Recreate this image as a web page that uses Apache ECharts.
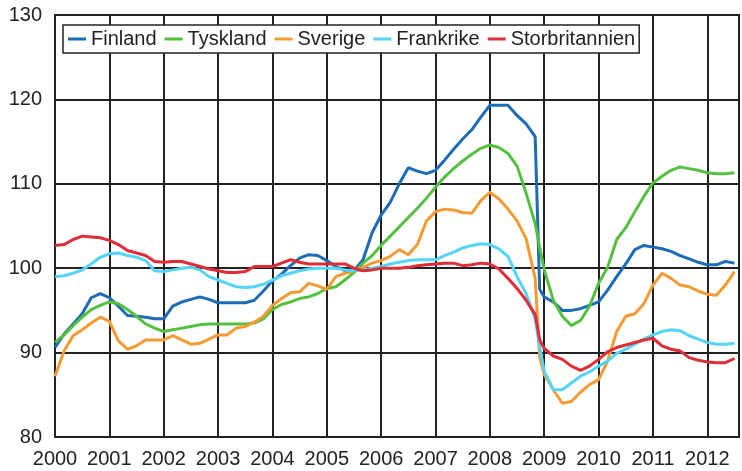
<!DOCTYPE html>
<html>
<head>
<meta charset="utf-8">
<script src="https://cdn.jsdelivr.net/npm/echarts@6/dist/echarts.min.js"></script>
<style>
  html, body { margin: 0; padding: 0; background: #fff; }
  #chart { width: 742px; height: 471px; }
</style>
</head>
<body>
<div id="chart"></div>
<script>
// month index from 2000-01 (0 = Jan 2000)
const months = [0,2,4,6,8,10,12,14,16,18,20,22,24,26,28,30,32,34,36,38,40,42,44,46,48,50,
  52,54,56,58,60,62,64,66,68,70,72,74,76,78,80,82,84,86,88,90,92,94,96,98,100,102,104,106,107,
  108,110,112,114,116,118,120,122,124,126,128,130,132,134,136,138,140,142,144,146,148,150];

const years = ['2000','2001','2002','2003','2004','2005','2006','2007','2008','2009','2010','2011','2012'];

const finland = [90.6,92.2,93.4,94.6,96.5,97.0,96.5,95.5,94.4,94.3,94.2,94.0,94.0,95.5,96.0,96.3,96.6,96.3,
  95.9,95.9,95.9,95.9,96.2,97.3,98.5,99.3,100.3,101.2,101.6,101.5,100.9,100.2,99.7,99.7,101.0,104.2,
  106.3,107.8,110.0,111.9,111.5,111.2,111.6,112.8,114.1,115.3,116.4,117.9,119.3,119.3,119.3,118.1,117.1,115.6,97.5,
  96.6,96.0,95.0,95.0,95.2,95.6,96.0,97.4,99.0,100.5,102.2,102.7,102.5,102.3,102.0,101.5,101.1,100.7,100.4,100.4,100.8,100.6];

const tyskland = [91.2,92.1,93.2,94.2,95.1,95.6,96.0,95.8,95.1,94.3,93.4,92.9,92.5,92.7,92.9,93.1,93.3,93.4,
  93.4,93.4,93.4,93.4,93.5,94.0,95.1,95.7,96.0,96.4,96.6,97.0,97.6,97.8,98.6,99.5,100.6,101.5,
  102.7,103.8,104.9,106.0,107.1,108.3,109.6,110.8,111.8,112.7,113.5,114.2,114.6,114.3,113.6,112.1,108.9,105.3,102.5,
  99.8,96.2,94.3,93.2,93.8,95.5,98.2,100.1,103.4,104.8,106.7,108.5,110.1,110.9,111.6,112.0,111.8,111.6,111.3,111.2,111.2,111.3];

const sverige = [87.2,90.2,92.0,92.7,93.5,94.2,93.7,91.4,90.4,90.8,91.5,91.5,91.5,92.0,91.5,91.0,91.1,91.6,
  92.1,92.1,92.9,93.1,93.6,94.3,95.6,96.4,97.1,97.2,98.2,97.9,97.5,99.0,99.4,99.7,100.1,100.6,
  100.9,101.4,102.2,101.6,102.8,105.6,106.7,107.0,106.9,106.6,106.5,108.0,109.0,108.2,107.0,105.6,103.5,98.8,89.5,
  87.4,85.6,84.0,84.2,85.3,86.2,86.8,89.0,92.5,94.3,94.6,95.8,98.0,99.4,98.8,98.0,97.8,97.3,96.9,96.8,98.0,99.6];

const frankrike = [99.0,99.1,99.4,99.8,100.5,101.3,101.7,101.8,101.5,101.3,100.9,99.7,99.6,99.8,100.0,100.1,99.8,99.0,
  98.6,98.2,97.8,97.7,97.8,98.1,98.6,99.1,99.4,99.7,99.9,100.0,100.0,100.0,99.8,99.7,99.8,100.0,
  100.2,100.5,100.7,100.9,101.0,101.0,101.0,101.5,101.9,102.4,102.7,102.9,102.8,102.3,101.4,99.0,97.0,94.0,90.7,
  87.8,85.6,85.6,86.4,87.2,87.7,88.4,89.0,89.9,90.4,91.0,91.6,92.1,92.5,92.7,92.6,92.0,91.6,91.2,91.0,91.0,91.1];

const storbritannien = [102.7,102.8,103.4,103.8,103.7,103.6,103.3,102.8,102.1,101.8,101.5,100.8,100.7,100.8,100.8,100.5,100.2,99.9,
  99.7,99.5,99.5,99.6,100.2,100.2,100.2,100.6,101.0,100.7,100.5,100.5,100.5,100.5,100.5,100.0,99.7,99.8,
  100.0,100.0,100.0,100.1,100.3,100.4,100.5,100.6,100.6,100.3,100.4,100.6,100.5,99.9,98.8,97.6,96.2,94.5,91.5,
  90.5,89.6,89.2,88.4,87.9,88.4,89.2,90.1,90.6,90.9,91.2,91.5,91.7,90.8,90.4,90.2,89.4,89.1,88.9,88.8,88.8,89.3];

const names = ['Finland', 'Tyskland', 'Sverige', 'Frankrike', 'Storbritannien'];
const colors = ['#1c6bb8', '#55c040', '#f59a32', '#55d4fa', '#e02c36'];
const values = [finland, tyskland, sverige, frankrike, storbritannien];

const chart = echarts.init(document.getElementById('chart'));

chart.setOption({
  animation: false,
  backgroundColor: '#fff',
  textStyle: { fontFamily: 'Liberation Sans' },
  grid: {
    left: 55,
    right: 1,
    top: 15,
    bottom: 34,
    show: true,
    borderColor: '#222',
    borderWidth: 2
  },
  legend: {
    left: 63,
    top: 25,
    padding: [4, 4, 4, 5],
    itemGap: 8,
    itemWidth: 18,
    itemHeight: 3,
    icon: 'rect',
    borderColor: '#222',
    borderWidth: 1.5,
    backgroundColor: '#fff',
    textStyle: { fontSize: 20, color: '#222', fontFamily: 'Liberation Sans' },
    data: names
  },
  xAxis: {
    type: 'value',
    min: 0,
    max: 151,
    interval: 12,
    axisLine: { show: false },
    axisTick: { show: false },
    splitLine: { show: true, lineStyle: { color: '#222', width: 2 } },
    axisLabel: {
      fontSize: 20,
      color: '#222',
      margin: 12,
      formatter: function (v) {
        return v % 12 === 0 ? years[v / 12] : '';
      }
    }
  },
  yAxis: {
    type: 'value',
    min: 80,
    max: 130,
    interval: 10,
    axisLine: { show: false },
    axisTick: { show: false },
    splitLine: { show: true, lineStyle: { color: '#222', width: 2 } },
    axisLabel: { fontSize: 20, color: '#222', margin: 13 }
  },
  series: names.map(function (name, i) {
    return {
      name: name,
      type: 'line',
      symbol: 'none',
      color: colors[i],
      lineStyle: { width: 3 },
      data: months.map(function (m, j) { return [m, values[i][j]]; })
    };
  })
});
</script>
</body>
</html>
